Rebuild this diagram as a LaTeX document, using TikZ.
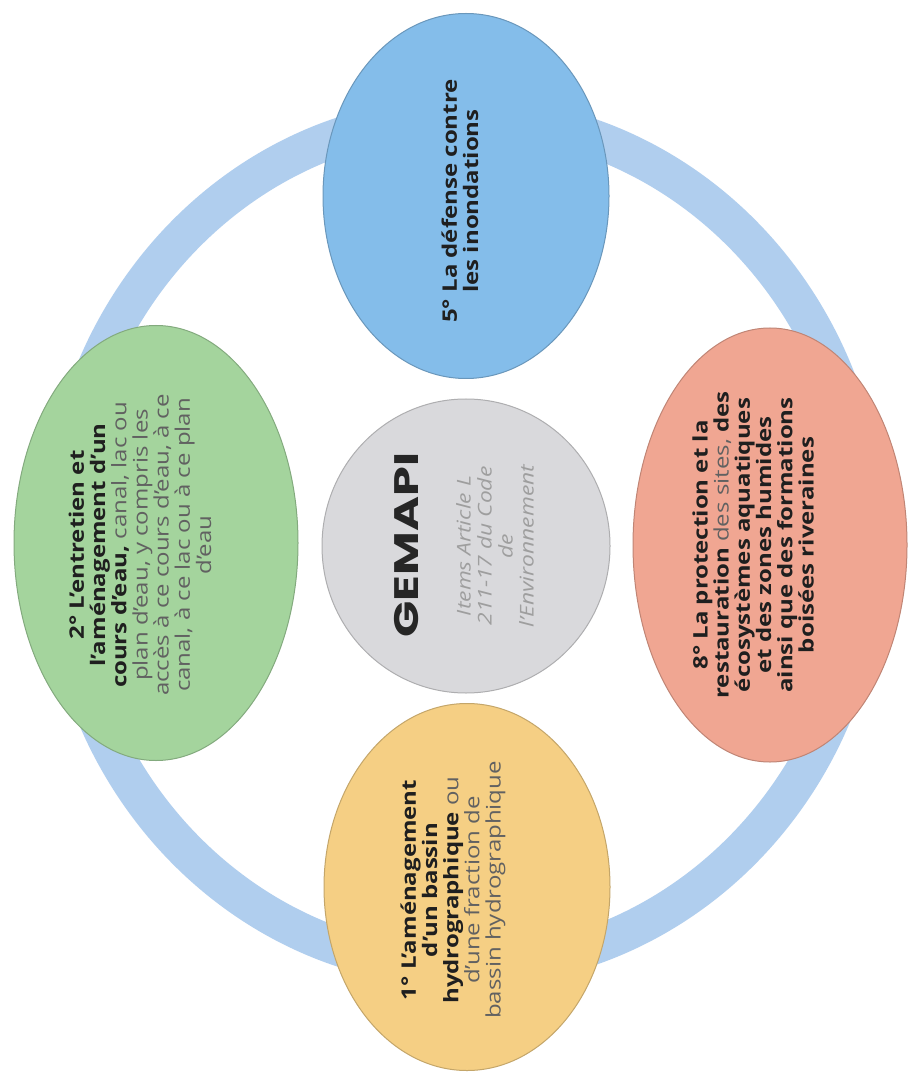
\documentclass[tikz,border=0pt]{standalone}
\usepackage{fontspec}
\setmainfont{Open Sans}
\newfontfamily\gemfont{Poppins}
\usetikzlibrary{shapes.geometric}

\definecolor{ringblue}{RGB}{176,206,238}
\definecolor{floodblue}{RGB}{132,189,234}
\definecolor{riversgreen}{RGB}{164,212,157}
\definecolor{coregray}{RGB}{217,217,220}
\definecolor{wetsalmon}{RGB}{240,166,146}
\definecolor{basinyellow}{RGB}{245,207,132}

\newcommand\soft[1]{{\mdseries\color{black!62}#1}}

\begin{document}
\begin{tikzpicture}[x=0.5pt,y=-0.5pt,line join=round,
  blob/.style={ellipse,inner sep=0pt,fill=#1,draw=#1!80!black,line width=0.5pt},
  itemtext/.style={rotate=90,xscale=1.2,align=center,text=black!88,
    font=\fontsize{10}{10.6}\selectfont\bfseries}]

\useasboundingbox (0,0) rectangle (911,1074);
\fill[white] (0,0) rectangle (911,1074);

%% ---------------- the ring behind the items ----------------
\draw[ringblue,line width=19pt] (464,542) ellipse [x radius=201.5pt,y radius=213pt];

%% ---------------- the five items ----------------
\node[blob=floodblue,minimum width=143pt,minimum height=182.5pt]   (flood)  at (466,196) {};
\node[blob=riversgreen,minimum width=142pt,minimum height=217.5pt] (rivers) at (156,543) {};
\node[blob=coregray,minimum width=144pt,minimum height=147pt]     (core)   at (466,546) {};
\node[blob=wetsalmon,minimum width=137pt,minimum height=217pt]    (wet)    at (770,545) {};
\node[blob=basinyellow,minimum width=143pt,minimum height=183.5pt] (basin) at (467,887) {};

%% texts, read from bottom to top
\node[itemtext] (floodtxt) at (460,201)
  {5° La défense contre\\les inondations};
\node[itemtext] (riverstxt) at (140,545)
  {2° L’entretien et\\l’aménagement d’un\\cours d’eau, \soft{canal, lac ou}\\
   \soft{plan d’eau, y compris les}\\\soft{accès à ce cours d’eau, à ce}\\
   \soft{canal, à ce lac ou à ce plan}\\\soft{d’eau}};
\node[itemtext] (wettxt) at (753,545)
  {8° La protection et la\\restauration \soft{des sites,} des\\écosystèmes aquatiques\\
   et des zones humides\\ainsi que des formations\\boisées riveraines};
\node[itemtext] (basintxt) at (453,890)
  {1° L’aménagement\\d’un bassin\\hydrographique \soft{ou}\\\soft{d’une fraction de}\\
   \soft{bassin hydrographique}};

%% the centre
\node[rotate=90,xscale=1.4,font=\gemfont\bfseries\fontsize{17}{20}\selectfont,text=black!85]
  (gemapi) at (407,545) {GEMAPI};
\node[rotate=90,xscale=1.2,align=center,text=black!38,font=\fontsize{9.5}{10.5}\selectfont\itshape]
  (law) at (495,546) {Items Article L\\211-17 du Code\\de\\l’Environnement};

\end{tikzpicture}
\end{document}
